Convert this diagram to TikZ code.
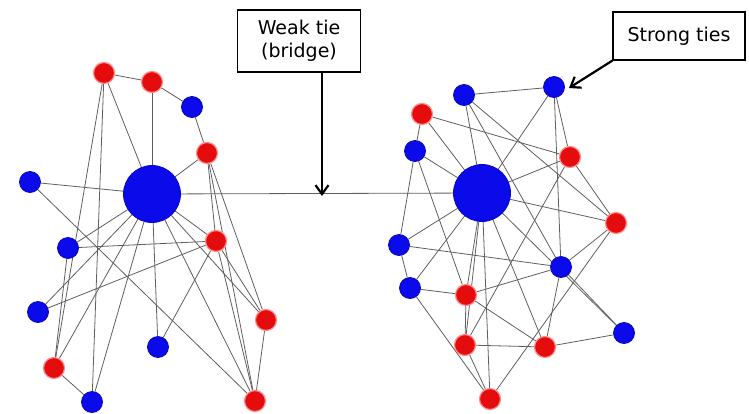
\documentclass[tikz,border=0pt]{standalone}
\usepackage{fontspec}
\setmainfont{DejaVu Sans}
\usetikzlibrary{backgrounds,arrows.meta}
\definecolor{nblue}{RGB}{10,10,235}
\definecolor{nred}{RGB}{228,12,12}
\definecolor{tie}{RGB}{95,95,95}
\tikzset{
  bnode/.style={circle, fill=nblue, draw=nblue!80!black, line width=0.8pt, minimum size=21pt, inner sep=0pt},
  rnode/.style={circle, fill=nred, draw=red!45, line width=1.2pt, minimum size=21pt, inner sep=0pt},
  hub/.style={circle, fill=nblue, draw=nblue!80!black, line width=0.8pt, minimum size=57pt, inner sep=0pt},
  tieline/.style={draw=tie, line width=0.8pt},
  label box/.style={draw=black, line width=1.1pt, fill=white, align=center, font=\fontsize{19}{23}\selectfont, inner sep=0pt},
  pointer/.style={draw=black, line width=2.2pt, -{Straight Barb[length=9pt,width=13pt,line width=2.2pt]}}
}
\begin{document}
\begin{tikzpicture}[x=1pt,y=-1pt]
\useasboundingbox (0,0) rectangle (749,413);
% left community
\node[hub]   (HL)  at (152,194) {};
\node[rnode] (L1)  at (104,73)  {};
\node[rnode] (L2)  at (152,82)  {};
\node[bnode] (L3)  at (192,107) {};
\node[rnode] (L4)  at (207,153) {};
\node[bnode] (L5)  at (30,182)  {};
\node[rnode] (L6)  at (216,241) {};
\node[bnode] (L7)  at (68,248)  {};
\node[bnode] (L8)  at (38,312)  {};
\node[rnode] (L9)  at (266,320) {};
\node[bnode] (L10) at (158,347) {};
\node[rnode] (L11) at (54,368)  {};
\node[bnode] (L12) at (92,402)  {};
\node[rnode] (L13) at (255,401) {};
% right community
\node[hub]   (HR)  at (482,193) {};
\node[bnode] (R1)  at (464,95)  {};
\node[bnode] (R2)  at (554,87)  {};
\node[rnode] (R3)  at (422,114) {};
\node[bnode] (R4)  at (415,151) {};
\node[rnode] (R5)  at (570,157) {};
\node[rnode] (R6)  at (616,223) {};
\node[bnode] (R7)  at (399,245) {};
\node[bnode] (R8)  at (561,267) {};
\node[bnode] (R9)  at (410,288) {};
\node[rnode] (R10) at (466,295) {};
\node[rnode] (R11) at (465,345) {};
\node[rnode] (R12) at (545,347) {};
\node[bnode] (R13) at (624,333) {};
\node[rnode] (R14) at (490,399) {};
% callouts
\node[label box, minimum width=123pt, minimum height=62pt] (weak) at (299,41) {Weak tie\\(bridge)};
\node[label box, minimum width=132pt, minimum height=48pt] (strong) at (679,36) {Strong ties};
\coordinate (bridgept) at (322,196);
\coordinate (strongpt) at (569,88);
\begin{scope}[on background layer]
  % the bridge
  \draw[tieline] (HL) -- (HR);
  % ties inside the left community
  \foreach \a/\b in {L1/L2, L2/L3, L3/L4, L2/HL, L1/HL, L1/L11, L1/L12, L4/HL, L5/HL,
                     L5/L13, L4/L6, L4/L9, L4/L13, HL/L7, HL/L11, HL/L12, HL/L10, HL/L6,
                     HL/L9, HL/L13, HL/L8, L7/L6, L8/L6, L7/L11, L11/L12, L6/L10, L6/L9,
                     L6/L13, L9/L13}
    \draw[tieline] (\a) -- (\b);
  % ties inside the right community
  \foreach \a/\b in {R1/R2, R1/HR, R1/R6, R1/R8, R2/HR, R2/R5, R2/R8, R3/R4, R3/R5, R3/HR,
                     R4/HR, R4/R7, R4/R10, R5/HR, R5/R6, R5/R11, HR/R6, HR/R7, HR/R9,
                     HR/R10, HR/R11, HR/R12, HR/R13, HR/R14, R7/R8, R7/R9, R9/R10, R9/R14,
                     R10/R11, R10/R12, R10/R8, R11/R12, R11/R14, R12/R13, R8/R13, R8/R12,
                     R6/R8, R6/R14}
    \draw[tieline] (\a) -- (\b);
\end{scope}
\draw[pointer] (weak.south -| bridgept) -- (bridgept);
\draw[pointer] (strong.south west) -- (strongpt);
\end{tikzpicture}
\end{document}
